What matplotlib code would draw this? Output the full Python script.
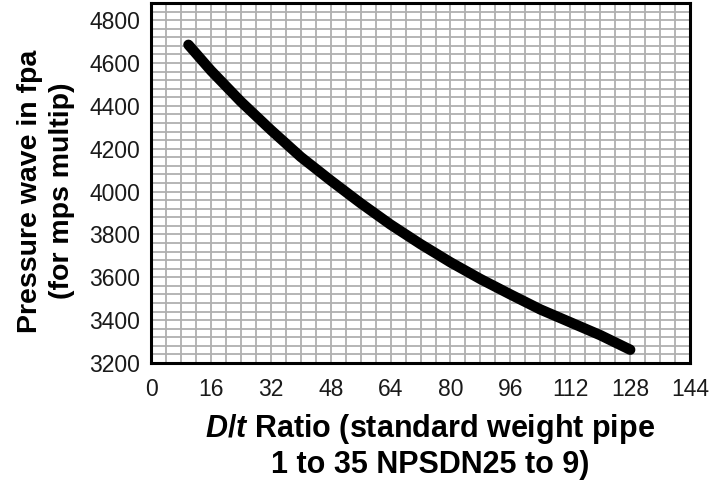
import matplotlib
matplotlib.use('Agg')
import matplotlib.pyplot as plt
import numpy as np

plt.rcParams['font.family'] = ['Liberation Sans', 'DejaVu Sans']
plt.rcParams['mathtext.fontset'] = 'custom'
plt.rcParams['mathtext.it'] = 'Liberation Sans:italic:bold'
plt.rcParams['mathtext.rm'] = 'Liberation Sans:bold'

# D/t ratio vs pressure wave speed
dt_ratio = [10, 16, 24, 32, 40, 48, 56, 64, 72, 80, 88, 96, 104, 112, 120, 128]
wave_fps = [4685, 4565, 4420, 4288, 4162, 4052, 3946, 3846, 3755, 3670,
            3592, 3520, 3450, 3390, 3330, 3262]

x_ticks = [0, 16, 32, 48, 64, 80, 96, 112, 128, 144]
y_ticks = [3200, 3400, 3600, 3800, 4000, 4200, 4400, 4600, 4800]

fig = plt.figure(figsize=(7.14, 4.87), dpi=100)
ax = fig.add_axes([0.2115, 0.2546, 0.755, 0.7392])

ax.plot(dt_ratio, wave_fps, color='black', lw=7.5, solid_capstyle='round', zorder=3)

ax.set_xlim(0, 144)
ax.set_ylim(3200, 4880)
ax.set_xticks(x_ticks)
ax.set_yticks(y_ticks)
ax.set_xticks(np.arange(0, 145, 4), minor=True)
ax.set_yticks(np.arange(3200, 4881, 40), minor=True)
ax.grid(which='both', color='#b0b0b0', lw=1.3)
ax.set_axisbelow(True)
ax.tick_params(which='both', length=0, labelsize=16.5, colors='#1a1a1a')
ax.tick_params(axis='x', pad=11)
ax.tick_params(axis='y', pad=8)
for s in ax.spines.values():
    s.set_linewidth(2.2)
    s.set_color('black')

ax.set_ylabel('Pressure wave in fpa\n(for mps multip)', fontsize=20.5,
              fontweight='bold', linespacing=1.3)
ax.yaxis.set_label_coords(-0.141, 0.478)
ax.set_xlabel('$D$/$t$ Ratio (standard weight pipe\n1 to 35 NPSDN25 to 9)',
              fontsize=22, fontweight='bold', linespacing=1.18)
ax.xaxis.set_label_coords(0.518, -0.135)

fig.savefig('out.png', dpi=100)
